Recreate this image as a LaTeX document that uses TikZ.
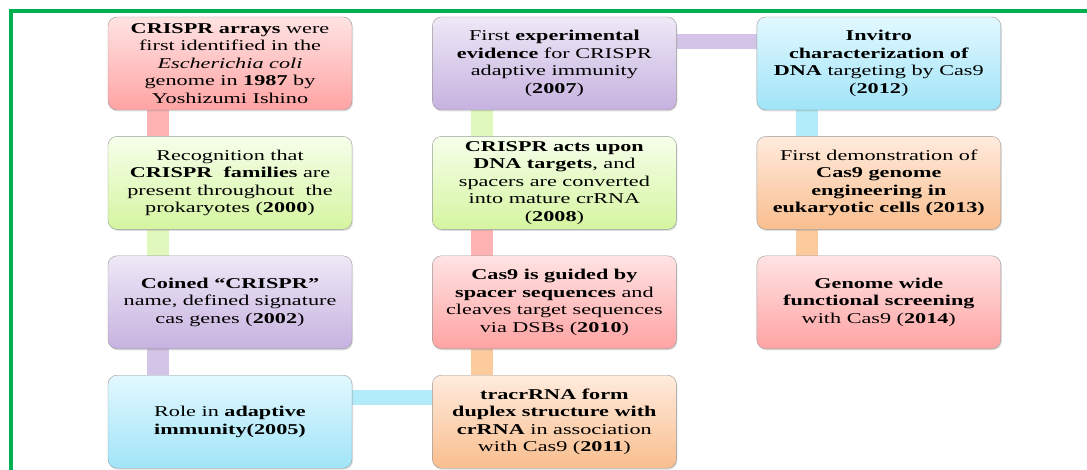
\documentclass[tikz,border=0pt]{standalone}
\usepackage{fontspec}
\setmainfont[FakeStretch=1.48]{Liberation Serif}
\usetikzlibrary{
  positioning,  % Function "of" (e.g. [below=of x])
  backgrounds,  % Bars behind the boxes
  shadows,      % Soft shadow of the boxes
}
\definecolor{pinktop}{HTML}{FFE3E3}
\definecolor{pinkbot}{HTML}{FFA3A3}
\definecolor{pinkbar}{HTML}{FFB3B3}
\definecolor{greentop}{HTML}{F6FFEB}
\definecolor{greenbot}{HTML}{D5F5A0}
\definecolor{greenbar}{HTML}{E0F8BC}
\definecolor{purpletop}{HTML}{EEE8F6}
\definecolor{purplebot}{HTML}{C6B2E0}
\definecolor{purplebar}{HTML}{D4C4E8}
\definecolor{bluetop}{HTML}{E2F8FF}
\definecolor{bluebot}{HTML}{A0E4F8}
\definecolor{bluebar}{HTML}{B2ECFA}
\definecolor{orangetop}{HTML}{FFEBDD}
\definecolor{orangebot}{HTML}{F9BE8E}
\definecolor{orangebar}{HTML}{FBCB9E}
\definecolor{framegreen}{HTML}{00B050}
\def\myvdist{26pt}
\def\myhdist{80pt}
\def\mybarshift{72pt}
\tikzset{
  x=1pt,
  y=1pt,
  my event/.style={
    draw=black!40,
    rounded corners=9pt,
    minimum width=244pt,
    minimum height=93pt,
    inner sep=3pt,
    align=center,
    font=\fontsize{15}{17.5}\selectfont,
    drop shadow={opacity=0.25,shadow xshift=1pt,shadow yshift=-1.5pt}
  },
  pink event/.style={my event,top color=pinktop,bottom color=pinkbot},
  green event/.style={my event,top color=greentop,bottom color=greenbot},
  purple event/.style={my event,top color=purpletop,bottom color=purplebot},
  blue event/.style={my event,top color=bluetop,bottom color=bluebot},
  orange event/.style={my event,top color=orangetop,bottom color=orangebot},
  my vbar/.style={line width=22pt},
  my hbar/.style={line width=15pt},
  my frame/.style={draw=framegreen,line width=4pt},
  node distance=\myvdist
}
\begin{document}
\begin{tikzpicture}
\useasboundingbox (0,0) rectangle (1087,-470);
% First column, top to bottom
\node[pink event]   (e1987) at (230,-63.5) {\textbf{CRISPR arrays} were\\first identified in the\\\textit{Escherichia coli}\\genome in \textbf{1987} by\\Yoshizumi Ishino};
\node[green event]  (e2000) [below=of e1987] {Recognition that\\\textbf{CRISPR\ \ families} are\\present throughout\ \ the\\prokaryotes (\textbf{2000})};
\node[purple event] (e2002) [below=of e2000] {\textbf{Coined “CRISPR”}\\name, defined signature\\cas genes (\textbf{2002})};
\node[blue event]   (e2005) [below=of e2002] {Role in \textbf{adaptive}\\\textbf{immunity(2005)}};
% Second column, bottom to top
\node[orange event] (e2011) [right=\myhdist of e2005] {\textbf{tracrRNA form}\\\textbf{duplex structure with}\\\textbf{crRNA} in association\\with Cas9 (\textbf{2011})};
\node[pink event]   (e2010) [above=of e2011] {\textbf{Cas9 is guided by}\\\textbf{spacer sequences} and\\cleaves target sequences\\via DSBs (\textbf{2010})};
\node[green event]  (e2008) [above=of e2010] {\textbf{CRISPR acts upon}\\\textbf{DNA targets}, and\\spacers are converted\\into mature crRNA\\(\textbf{2008})};
\node[purple event] (e2007) [above=of e2008] {First \textbf{experimental}\\\textbf{evidence} for CRISPR\\adaptive immunity\\(\textbf{2007})};
% Third column, top to bottom
\node[blue event]   (e2012) [right=\myhdist of e2007] {\textbf{Invitro}\\\textbf{characterization of}\\\textbf{DNA} targeting by Cas9\\(\textbf{2012})};
\node[orange event] (e2013) [below=of e2012] {First demonstration of\\\textbf{Cas9 genome}\\\textbf{engineering in}\\\textbf{eukaryotic cells (2013)}};
\node[pink event]   (e2014) [below=of e2013] {\textbf{Genome wide}\\\textbf{functional screening}\\with Cas9 (\textbf{2014})};
\begin{scope}[on background layer]
\fill[white] (0,0) rectangle (1087,-470);
\draw[my vbar,pinkbar]   ([xshift=-\mybarshift]e1987.south) -- ([xshift=-\mybarshift]e2000.north);
\draw[my vbar,greenbar]  ([xshift=-\mybarshift]e2000.south) -- ([xshift=-\mybarshift]e2002.north);
\draw[my vbar,purplebar] ([xshift=-\mybarshift]e2002.south) -- ([xshift=-\mybarshift]e2005.north);
\draw[my hbar,bluebar]   ([yshift=24pt]e2005.east) -- ([yshift=24pt]e2011.west);
\draw[my vbar,orangebar] ([xshift=-\mybarshift]e2011.north) -- ([xshift=-\mybarshift]e2010.south);
\draw[my vbar,pinkbar]   ([xshift=-\mybarshift]e2010.north) -- ([xshift=-\mybarshift]e2008.south);
\draw[my vbar,greenbar]  ([xshift=-\mybarshift]e2008.north) -- ([xshift=-\mybarshift]e2007.south);
\draw[my hbar,purplebar] ([yshift=22pt]e2007.east) -- ([yshift=22pt]e2012.west);
\draw[my vbar,bluebar]   ([xshift=-\mybarshift]e2012.south) -- ([xshift=-\mybarshift]e2013.north);
\draw[my vbar,orangebar] ([xshift=-\mybarshift]e2013.south) -- ([xshift=-\mybarshift]e2014.north);
\end{scope}
% Green frame, cut by the right and bottom edges
\coordinate (framebl) at (10.5,-470);
\coordinate (frametr) at (1087,-11.5);
\draw[my frame] (framebl) |- (frametr);
\end{tikzpicture}
\end{document}
